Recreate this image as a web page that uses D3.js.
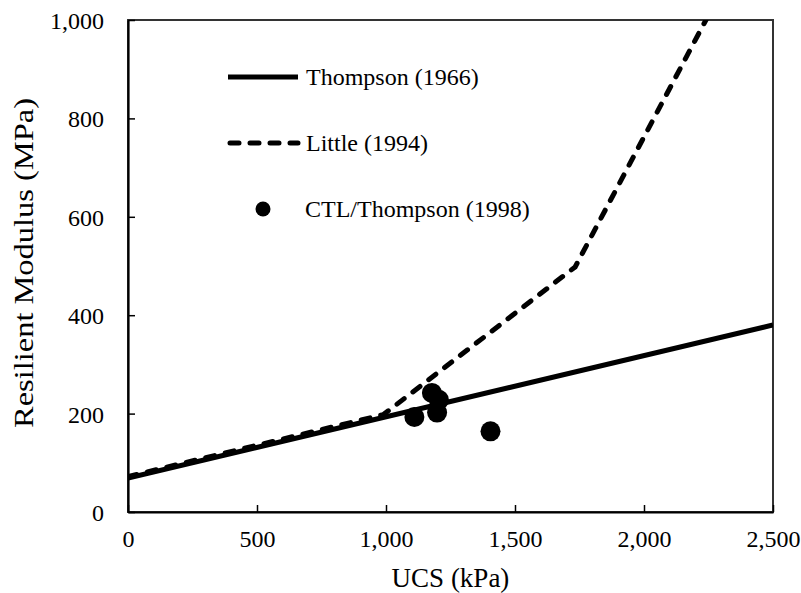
<!DOCTYPE html>
<html><head><meta charset="utf-8">
<script src="https://cdn.jsdelivr.net/npm/d3@7"></script>
<style>body{margin:0;background:#fff}svg{display:block}text{font-family:"Liberation Serif","Times New Roman",serif;fill:#000}</style>
</head><body>
<script>
const xTicks=[0,500,1000,1500,2000,2500];
const yTicks=[0,200,400,600,800,1000];
const thompsonUCS=[0,2500];
const thompsonMr=[69,380];
const littleUCS=[0,990,1733,2240,2300];
const littleMr=[72,198,498,1000,1060];
const ctlUCS=[1110,1178,1205,1198,1405];
const ctlMr=[193,242,228,202,164];
const legendLabels=["Thompson (1966)","Little (1994)","CTL/Thompson (1998)"];

const W=801,H=593,m={l:128,r:28,t:20,b:81};
const svg=d3.select("body").append("svg").attr("width",W).attr("height",H);
const x=d3.scaleLinear().domain([0,2500]).range([m.l,W-m.r]);
const y=d3.scaleLinear().domain([0,1000]).range([H-m.b,m.t]);
const fmt=d3.format(",");
svg.append("defs").append("clipPath").attr("id","c").append("rect")
  .attr("x",m.l).attr("y",m.t).attr("width",W-m.l-m.r).attr("height",H-m.t-m.b);
svg.append("rect").attr("x",m.l).attr("y",m.t).attr("width",W-m.l-m.r).attr("height",H-m.t-m.b)
  .attr("fill","none").attr("stroke","#333").attr("stroke-width",2);
const gx=svg.append("g").attr("transform",`translate(0,${H-m.b})`)
  .call(d3.axisBottom(x).tickValues(xTicks).tickFormat(fmt).tickSizeInner(-7).tickSizeOuter(0).tickPadding(18));
const gy=svg.append("g").attr("transform",`translate(${m.l},0)`)
  .call(d3.axisLeft(y).tickValues(yTicks).tickFormat(fmt).tickSizeInner(-7).tickSizeOuter(0).tickPadding(24));
[gx,gy].forEach(g=>{g.select(".domain").attr("stroke","#000").attr("stroke-width",2.2);
  g.selectAll(".tick line").attr("stroke","#000").attr("stroke-width",1.5);
  g.selectAll(".tick text").attr("font-size",24);});
gy.selectAll(".tick text").attr("dy","0.35em");
svg.append("text").attr("x",(m.l+W-m.r)/2).attr("y",587).attr("text-anchor","middle").attr("font-size",27).text("UCS (kPa)");
svg.append("text").attr("transform",`translate(33,263) rotate(-90)`).attr("text-anchor","middle").attr("font-size",28)
  .attr("textLength",330).attr("lengthAdjust","spacingAndGlyphs").text("Resilient Modulus (MPa)");

const plot=svg.append("g").attr("clip-path","url(#c)");
const line=d3.line().x(d=>x(d[0])).y(d=>y(d[1]));
plot.append("path").datum(d3.zip(thompsonUCS,thompsonMr)).attr("d",line)
  .attr("fill","none").attr("stroke","#000").attr("stroke-width",5);
plot.append("path").datum(d3.zip(littleUCS,littleMr)).attr("d",line)
  .attr("fill","none").attr("stroke","#000").attr("stroke-width",5).attr("stroke-linecap","round").attr("stroke-dasharray","9,11");
plot.selectAll("circle").data(d3.zip(ctlUCS,ctlMr)).join("circle")
  .attr("cx",d=>x(d[0])).attr("cy",d=>y(d[1])).attr("r",10).attr("fill","#000");

const lg=svg.append("g");
lg.append("line").attr("x1",228).attr("x2",298).attr("y1",77).attr("y2",77).attr("stroke","#000").attr("stroke-width",5);
lg.append("line").attr("x1",230).attr("x2",298).attr("y1",143).attr("y2",143).attr("stroke","#000").attr("stroke-width",5).attr("stroke-linecap","round").attr("stroke-dasharray","9,11");
lg.append("circle").attr("cx",263).attr("cy",209).attr("r",7.5).attr("fill","#000");
lg.selectAll("text").data(legendLabels).join("text")
  .attr("x",(d,i)=>i==2?305:306).attr("y",(d,i)=>77+i*66).attr("dy","0.35em").attr("font-size",24).text(d=>d);
</script>
</body></html>
